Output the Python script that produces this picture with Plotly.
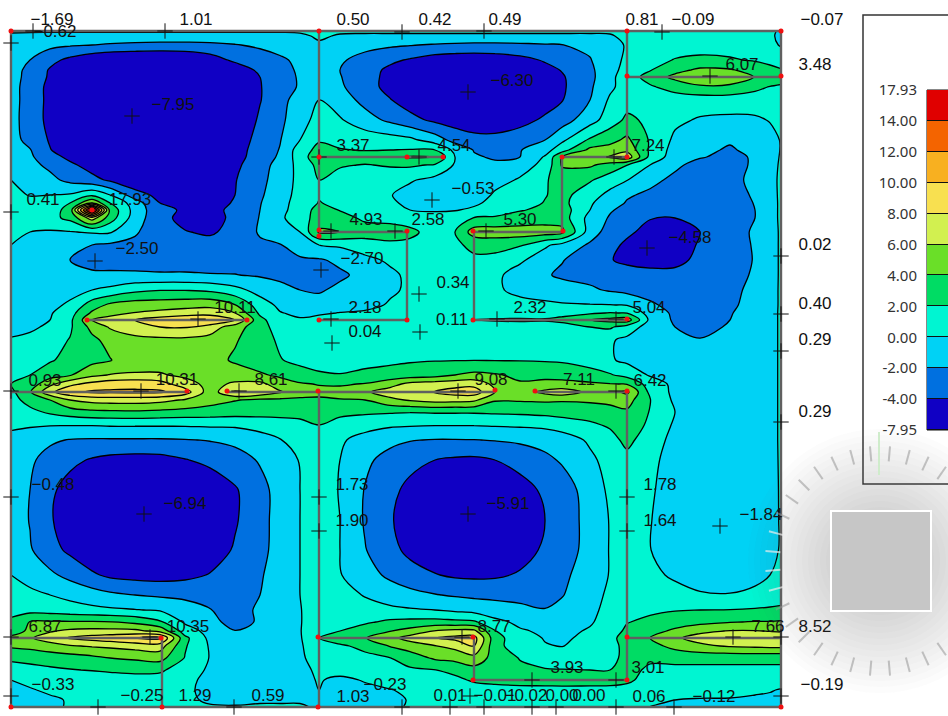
import math
import plotly.graph_objects as go

x_nodes = [11,30,50,70,92,110,135,160,185,210,235,260,280,300,319,340,365,390,410,435,455,474,495,520,545,562,590,610,627,650,675,700,730,755,770,781]
y_nodes = [31,36,45,60,70,77,87,100,120,140,150,157,165,180,195,203,210,218,232,245,260,275,290,305,313,320,327,340,360,375,384,392,400,412,425,440,460,490,520,550,575,595,610,622,631,638,646,658,670,680,690,700,707]

moment = [
[0.2,0.3,0.3,0.3,0.3,0.3,0.3,0.3,0.3,0.3,0.3,0.3,0.3,0.3,0.5,0.3,0.3,0.3,0.3,0.3,0.3,0.3,0.3,0.3,0.3,0.3,0.3,0.3,0.5,0.8,0.9,0.9,0.9,0.8,0.4,-0.3],
[-0.3,-0.6,-0.8,-0.8,-0.8,-0.9,-0.9,-0.9,-0.9,-0.9,-0.9,-0.9,-0.8,-0.4,0.3,-0.2,-0.3,-0.3,-0.3,-0.3,-0.3,-0.3,-0.3,-0.3,-0.3,-0.3,-0.3,-0.2,0.5,0.9,1,1,1,0.9,0.3,-0.4],
[-0.7,-1.2,-1.5,-1.8,-2.0,-2.2,-2.4,-2.5,-2.5,-2.4,-2.1,-1.7,-1.3,-0.8,-0.3,-0.8,-1.3,-1.7,-1.9,-2.2,-2.4,-2.5,-2.5,-2.4,-2.2,-2.05,-1.6,-0.8,0.2,0.9,1.1,1.2,1.2,1.1,0.6,-0.2],
[-1.3,-2.0,-3.4,-4.5,-5.5,-6,-6.2,-6.3,-6,-5,-3.6,-2.9,-2.3,-1.6,-0.9,-1.7,-2.8,-3.6,-4.2,-5,-5.2,-5.3,-5.1,-4.6,-3.8,-3.3,-2.1,-0.8,0.4,1.3,2.1,2.4,2.2,1.8,1.6,1.4],
[-1.4,-2.4,-4.2,-5.3,-6.2,-6.7,-6.9,-6.9,-6.7,-6.2,-5.2,-3.6,-2.7,-1.7,-0.9,-2,-3.2,-4.4,-5.3,-5.8,-6,-6,-5.8,-5.4,-4.6,-3.9,-2.4,-0.7,0.7,1.9,3.3,4.4,4.2,3.2,2.4,2.1],
[-1.4,-2.5,-4.3,-5.5,-6.4,-6.9,-7.1,-7.1,-6.9,-6.5,-5.6,-4,-2.8,-1.8,-1,-1.9,-3.3,-4.5,-5.4,-5.9,-6.1,-6.1,-5.9,-5.5,-4.8,-4.2,-2.5,-0.6,1.2,2.6,4.6,5.8,5.5,3.9,3.4,3.48],
[-1.4,-2.7,-4.6,-5.9,-6.7,-7.2,-7.4,-7.4,-7.2,-6.8,-6,-4.1,-2.9,-1.8,-0.7,-1.7,-3.2,-4.6,-5.6,-6.1,-6.3,-6.3,-6.1,-5.6,-5,-4.3,-2.3,-0.4,0.9,1.8,2.6,3.6,3.5,2.5,1.9,1.5],
[-1.4,-2.7,-4.6,-6.0,-6.9,-7.4,-7.7,-7.8,-7.5,-7,-6,-4.1,-2.6,-1.2,0,-1,-2.6,-3.9,-4.9,-5.6,-6,-6.1,-6,-5.4,-4.8,-4.1,-2.0,0.3,1.2,1.4,1.2,1,1,1,0.9,0.9],
[-1.4,-2.8,-4.6,-6.1,-7,-7.5,-7.8,-7.95,-7.7,-7.1,-5.8,-3.7,-2.4,-0.9,0.8,0.2,-1.2,-2.4,-3.4,-4.4,-4.9,-5.1,-5,-4.6,-3.7,-2.9,-0.8,1,2.4,1.6,0.4,-0.2,-0.4,-0.3,0.1,0.7],
[-1.4,-2.5,-4.2,-5.8,-6.8,-7.4,-7.7,-7.7,-7.5,-6.7,-5,-3.4,-2.1,0,1.8,1.5,1.2,0.9,0.5,-1,-2.7,-3.4,-3.5,-3,-2,-0.4,2.3,3.4,4.4,1.8,-0.4,-1.3,-1.8,-1.4,-0.6,0.1],
[-1.4,-1.9,-3.9,-5.2,-6.3,-7.2,-7.6,-7.7,-7.4,-6.6,-4.8,-3.2,-1.9,1,2.6,2.1,1.9,2,2.1,2,-0.5,-2.1,-2.6,-2.1,-0.8,1.2,4.5,4.8,5.5,1.7,-0.8,-1.6,-2.2,-1.5,-0.8,0.1],
[-1.3,-1.7,-3.2,-4.5,-6,-7,-7.4,-7.6,-7.3,-6.4,-4.7,-3.1,-1.7,1,3.37,3.1,3,3.3,4.2,4.1,0,-1.8,-2.2,-2,0.2,4,4.9,6.2,7.24,1.4,-1,-1.8,-2.7,-1.7,-0.9,0.2],
[-1.2,-1.5,-2.4,-3.6,-4.8,-6.2,-7,-7.2,-7,-6,-4.4,-2.9,-1.2,0.6,2.6,2.2,1.9,2.2,2.3,1.8,-0.2,-1.4,-1.7,-0.8,0.5,4.2,4.3,3.2,2.05,0,-1.5,-2.9,-3,-1.6,-0.8,0.3],
[0,-0.5,-1.5,-2.5,-3.4,-4.3,-5.6,-6.2,-6.2,-5.4,-4.1,-2.6,-1,0.5,2,1.2,1,0.7,0.2,-0.6,-1,-1.1,-0.7,0.2,1.8,2.8,2.2,1,0.05,-1.3,-2.6,-3.2,-2.6,-1.5,-0.7,0.4],
[0.5,-0.1,0,0.2,1.6,0,-3.1,-4.6,-5.6,-5.2,-4,-2.3,-0.8,0.6,1.8,1.3,1.2,0.1,-0.7,-1.1,-1.4,-1.2,0.3,1,1.9,2.6,0.9,-0.6,-1.7,-2.5,-3,-3.1,-3,-1.7,-0.8,0.4],
[0.6,0.6,0.9,2.0,6,2.0,-1,-4,-5.1,-4.9,-3.8,-2.1,-0.6,0.7,2.1,1.5,1.1,0.3,-0.4,-0.7,-0.7,-0.3,0.5,1.2,2.1,2.6,0.2,-0.9,-2.2,-2.8,-3.2,-3.3,-3.1,-1.9,-0.9,0.4],
[0.7,0.8,1.1,2.7,17.93,3.4,-0.8,-3.4,-4.3,-4.5,-3.6,-2,-0.5,0.8,2.8,1.9,1.3,0.6,0,-0.2,-0.1,0.3,0.9,1.9,2.3,3,0,-1.8,-2.6,-3.3,-3.6,-3.5,-3.2,-2,-0.9,0.4],
[0.8,1,1.4,2.5,7,3,-1,-3.4,-4.6,-4.5,-3.7,-1.9,-0.3,0.9,3,2.8,1.6,1,0.8,0.8,1,2.1,2.3,2.6,3,3,-0.7,-2.2,-3,-3.9,-4,-3.8,-3.3,-2,-0.9,0.4],
[0.5,0,-0.2,-0.1,0.2,0.2,-1.8,-3,-3.9,-4.3,-3.3,-1.8,-0.9,0,4.3,4,3,3.5,2.58,1,2,4.93,5,5.1,5,4.6,-1,-2.9,-3.6,-4.7,-5.1,-4,-3,-1.7,-0.9,0.3],
[0,-0.6,-0.9,-1.3,-2,-2.3,-2.4,-2.7,-3.3,-3.2,-2.8,-2.3,-2.1,-1,0,0.3,1,1.3,1.4,1.4,1.7,2.4,2.8,2.2,0.3,-0.6,-2.3,-3.4,-4.4,-4.9,-5,-3.8,-3,-1.8,-0.9,0.3],
[-0.5,-0.9,-1.4,-2,-2.6,-2.7,-2.8,-2.8,-2.8,-2.8,-2.7,-2.6,-2.5,-2.3,-2.2,-1.6,-0.5,0.3,0.6,0.8,1.3,1.7,1.3,0.3,-1,-1.9,-3,-3.9,-4.4,-4.7,-4.6,-3.5,-2.8,-1.9,-0.9,0.3],
[-0.6,-1,-1.3,-1.6,-1.7,-1.7,-1.7,-1.8,-1.8,-1.9,-1.95,-2.2,-2.4,-2.6,-2.7,-2.3,-1.5,-0.4,0.4,0.8,1,1.1,0.4,-0.8,-1.8,-2.3,-2.6,-3,-3.2,-3.4,-3.4,-3.2,-2.6,-1.8,-0.9,0.3],
[-0.8,-1,-0.9,-0.6,0,0.5,1.5,1.9,1.9,1.6,0.6,-0.7,-1.5,-2,-2.2,-1.6,-0.9,-0.3,0.3,0.6,0.7,0.6,0.3,-0.5,-1,-1.2,-1.7,-2.2,-2.6,-3,-3.3,-3.4,-2.5,-1.5,-0.8,0.3],
[-0.9,-0.8,-0.5,0.3,3,4.4,5,5.1,5.3,5.5,4.1,0.9,-0.4,-1.2,-1.3,-1.2,-0.6,0.2,0.6,0.8,0.8,0.7,0.7,0.6,0.4,0.2,0.1,0.05,-0.1,-1.6,-2.8,-3.2,-2.3,-1.4,-0.8,0.3],
[-1,-0.6,-0.2,1.2,4.3,5.2,6.1,6.5,6.9,7,6,1.6,0.1,-0.4,-0.4,0.1,0.3,0.5,1.0,1.1,1,1.1,1,1,1.1,1.3,1.7,2.1,1.9,-0.8,-2.4,-3,-2.1,-1.3,-0.7,0.3],
[-1.1,-0.6,0,1.5,6,7,8,9,9.8,10.11,8,2.6,0.6,0.2,0.9,1,0.9,0.8,0.7,0.8,1.1,2.1,2.2,2.32,2.2,2.6,4,4.6,5.04,-0.5,-2.3,-2.9,-2,-1.3,-0.7,0.3],
[-1.1,-0.5,0.5,1.7,4.6,6.2,7.2,8,8.2,7,5,2.7,1.2,0.8,0.6,0.5,0.5,0.4,0.4,0.5,0.6,0.7,0.9,0.9,0.9,1,2,2.3,1,-0.8,-2,-2.6,-1.8,-1.2,-0.7,0.3],
[0.3,0.7,1.2,2.1,3.5,4.7,5.4,5.5,5.5,5.3,4.2,2.8,1.7,1.1,0.9,0.8,0.7,0.6,0.6,0.6,0.7,0.7,0.8,0.8,0.8,0.7,0.6,0.2,-0.4,-1,-1.5,-1.9,-1.5,-1.1,-0.7,0.3],
[0.9,1.4,1.8,2.6,3.4,3.9,4.6,5,5.1,4.8,3.7,2.9,2.1,1.5,1.1,1,1.3,1.6,1.8,1.9,1.9,1.95,1.9,1.9,1.8,1.7,1.1,0.2,-0.4,-1,-1.4,-1.6,-1.6,-1.2,-0.7,0.3],
[1.7,2,3.1,3.8,5.5,6.1,6.3,6.2,5.6,5.2,5,4.3,3.6,2.8,2.3,2.1,2.5,2.7,2.9,3.2,4,4.5,4.2,3.6,3.6,3.4,2.8,2.2,1.3,-0.2,-0.9,-1.4,-1.6,-1.2,-0.7,0.3],
[2,2.8,5.5,7.5,8.6,9.2,9.4,8.9,6.8,5.4,6.3,6.5,5,4.2,3.9,3.8,4.1,5.2,6.6,7,7.2,7.3,5.5,4.2,4.4,4.5,4.3,4.1,3.9,1.1,-0.5,-1.3,-1.5,-1.2,-0.7,0.3],
[1.5,3.8,7.5,9.5,10.3,10.3,10.31,10.31,9,4.9,8.2,7.5,6.2,5,4.5,4.6,5.7,7,7.2,8.1,8.8,9.08,6,5,6.5,7.11,5.5,5.2,6.42,1.5,-0.5,-1.3,-1.5,-1.2,-0.7,0.3],
[1.3,2.7,4,6,6.7,6.9,6.9,6.6,5.8,4.8,4.1,3.6,3.6,3.6,3.7,3.9,4,5.5,6.2,6.8,6.7,6.4,4.2,4.2,4.3,4.2,4.3,4.5,4.8,2.1,-0.4,-1.3,-1.5,-1.2,-0.7,0.3],
[0.9,1.5,2.3,3,3.5,3.6,3.7,3.5,3.3,3.1,2.9,2.8,2.7,2.7,3.1,2.4,2.3,2.2,2.1,2.2,2.2,2.2,2.3,2.4,2.6,2.8,3,3.3,3.7,1.9,0,-1.2,-1.5,-1.2,-0.7,0.3],
[0.3,0.2,0.1,0.1,0.1,0.2,0.2,0.2,0.2,0.3,0.3,0.7,1.1,1.4,2,1.4,0.8,0.3,0.2,0.1,0.1,0.1,0.2,0.3,0.5,0.9,1.6,2.3,3.2,1.6,-0.3,-1.2,-1.5,-1.2,-0.7,0.3],
[-0.5,-1,-1.7,-2.1,-2.2,-2.2,-2.2,-2.2,-2.1,-1.9,-1.5,-0.8,-0.1,0.9,1.5,0.3,-0.8,-1.5,-1.9,-2.1,-2.1,-2.05,-1.9,-1.7,-1.4,-1,0.3,1.2,2.6,0.8,-0.5,-1.2,-1.5,-1.2,-0.7,0.3],
[-0.7,-1.7,-2.7,-3.5,-4.2,-4.6,-4.8,-4.7,-4.1,-3.5,-2.9,-1.8,-0.9,0.1,1.2,0,-1.6,-2.7,-3.3,-4,-4.3,-4.4,-4,-3.2,-2.4,-1.8,-0.4,0.7,1.3,0.5,-0.8,-1.3,-1.6,-1.3,-0.8,0.3],
[-0.8,-2,-3.6,-4.8,-5.8,-6.4,-6.8,-6.8,-6.2,-5.4,-4.2,-2.7,-1.2,0,1.73,-0.2,-2.1,-3.4,-4.6,-5.4,-5.8,-5.9,-5.6,-4.9,-3.6,-2.9,-1.2,0.4,1.78,0.3,-1.1,-1.6,-1.8,-1.5,-1,0.3],
[-0.8,-2.1,-3.8,-5,-6,-6.5,-6.94,-6.9,-6.4,-5.5,-4.2,-2.7,-1.2,0,1.6,0,-2.2,-3.8,-4.9,-5.6,-5.91,-5.9,-5.7,-5,-4,-3.1,-1.3,0.1,1.64,0.1,-1.2,-1.7,-1.84,-1.6,-1.1,0.3],
[-0.7,-1.8,-3.3,-4.4,-5.5,-6,-6.4,-6.3,-5.9,-5,-3.8,-2.6,-1.2,0,1.4,0,-1.9,-3.4,-4.5,-5.3,-5.6,-5.6,-5.3,-4.8,-3.7,-3,-1.3,0.1,1.3,0.05,-1.1,-1.5,-1.7,-1.4,-1,0.3],
[0,-0.5,-1.6,-2.6,-3.7,-4.4,-4.7,-4.8,-4.5,-3.9,-3.1,-2.2,-1.1,0,1,0.1,-1.2,-2.4,-3.2,-3.9,-4.3,-4.4,-4.3,-3.8,-2.9,-2.4,-1.1,0.1,1,0.6,-0.4,-0.9,-1,-0.5,0,0.6],
[0.5,0.3,0,-0.5,-1.1,-1.6,-2,-2.3,-2.5,-2.4,-2.2,-2.0,-1,0,1,0.6,-0.1,-0.9,-1.4,-1.9,-2.2,-2.4,-2.5,-2.5,-2.4,-2.1,-0.8,0.4,1.1,1.2,0.9,0.2,0.1,0.4,0.8,1.1],
[1.5,1.3,1.1,0.8,0.5,0.3,0.1,-0.2,-1,-1.95,-2.5,-1.8,-0.9,-0.1,1.1,0.9,0.6,0.4,0.2,0,-0.4,-0.7,-1.1,-1.6,-1.95,-1.5,-0.4,0.5,1.3,1.6,1.9,2,2.05,2.2,2.3,2.4],
[2.3,4.1,4.2,4.2,4.2,4.1,3.5,2.3,-0.3,-1.5,-2.6,-1.8,-0.8,-0.1,1,1.2,1.7,2.4,2.6,2.7,2.5,2.3,0.5,-0.4,-0.9,-1.1,-0.2,0.8,1.9,2.5,3,3.4,3.9,4.1,4.1,4.2],
[3,4.4,5.8,6.4,6.6,6.6,6.5,5.4,1,-0.7,-1.95,-1.9,-0.7,-0.1,1.5,2,3,3.9,4.7,6.1,6.6,6.5,2.1,0.2,-0.3,-0.5,0.2,1,2.4,3.2,4.4,5.6,6.1,6.1,5.9,5.6],
[4.5,5.8,7,8.2,8.8,9.2,10,10.35,2.5,-0.5,-1.1,-1.1,-0.6,-0.2,2,3,3.9,5.4,6.8,8,8.5,8.77,2.8,0.7,-0.1,-0.2,0.3,1.2,3.2,4,5.7,6.7,7.3,7.66,7.6,7.9],
[4.3,4.6,5.2,5.8,6.2,6.4,6.8,7,2.2,-0.2,-1,-1,-0.5,-0.2,1,1.7,2.5,4.1,4.9,5.9,6.6,8,2.6,1,0.1,-0.05,0.5,1.1,2.8,3.3,4.6,5.6,6.2,6.4,6.5,6.5],
[2.3,2.5,2.8,3.1,3.5,4,4.3,4.7,1.9,-0.1,-0.9,-0.9,-0.5,-0.2,0.5,0.9,1.5,1.95,3,4.3,4.6,5.3,3.2,1.9,0.8,0.7,0.9,1.5,2.5,2.4,2.6,2.6,2.6,2.6,2.6,2.6],
[1.3,1.5,1.7,1.9,2.1,2.3,2.5,2.3,1,-0.3,-0.7,-0.8,-0.5,-0.3,0.2,0.5,0.9,1.4,1.7,1.95,2.6,3.3,2.8,2.4,2.2,2.1,2,2,2.7,1.6,1.5,1.5,1.5,1.5,1.5,1.5],
[0,0.3,0.4,0.6,0.8,1,1.2,1.29,0.4,-0.4,-0.5,-0.6,-0.5,-0.4,0.1,-0.3,0.1,0.4,0.7,1,1.5,2.3,2.7,3,3.1,3.1,3,2.8,2.4,1.2,1.1,1,1,0.9,0.8,0.7],
[-0.2,-0.1,0.2,0.3,0.4,0.4,0.5,0.6,0.2,-0.3,-0.4,-0.4,-0.4,-0.3,0,-0.3,-0.3,-0.05,0.2,0.3,0.5,1,1.1,1.2,1.2,1.3,1.3,1.4,1.3,0.9,0.7,0.5,0.4,0.2,0.1,-0.1],
[-0.33,-0.33,-0.2,0.1,0.3,0.3,0.3,0.3,0.2,-0.15,-0.15,-0.1,-0.1,-0.1,-0.1,-0.3,-0.23,-0.2,0.05,0.05,0.05,0.1,0.1,0.2,0.2,0.2,0.3,0.3,0.3,0.3,0,-0.1,-0.1,-0.2,-0.3,-0.3],
[-0.4,-0.3,-0.2,0.1,0.1,0.1,0.1,0.1,0.1,0.1,0.05,0.1,0.1,0.1,-0.1,-0.1,-0.1,-0.1,0.05,0.01,0.05,0.1,0.1,0.1,0.1,0.1,0.1,0.1,0.1,-0.02,-0.1,-0.1,-0.1,-0.2,-0.3,-0.3],
]

band_colors = ["#1000c4","#0070e0","#00d2f5","#00f5d2","#00dc64","#6adf28","#d2f050","#f8e050","#f8b020","#f46400","#e00000"]
band_labels = ["-7.95","-4.00","-2.00","0.00","2.00","4.00","6.00","8.00","10.00","12.00","14.00","17.93"]

beam_x = [11,781,781,11,11,None,319,319,None,319,319,None,627,627,None,627,627,None,627,781,None,319,443,None,319,407,407,319,None,87,249,None,11,188,None,227,495,None,535,627,None,562,627,None,562,562,474,474,627,None,11,162,162,None,319,474,474,627,None,627,781]
beam_y = [31,31,707,707,31,None,31,232,None,392,707,None,31,157,None,392,680,None,77,77,None,157,157,None,232,232,320,320,None,320,320,None,392,392,None,392,392,None,392,392,None,157,157,None,157,232,232,320,320,None,638,638,707,None,638,638,680,680,None,638,638]

node_x = [11,319,627,781,627,781,319,407,443,319,319,407,407,319,87,247,92,473,473,562,627,563,627,187,227,318,495,535,627,161,318,473,473,627,627,11,162,318,781]
node_y = [31,31,31,31,76,76,157,157,157,230,236,231,320,320,320,320,210,231,320,157,157,231,319,391,391,391,390,391,391,638,637,637,680,637,680,707,707,707,707]

cross_x = [33,165,402,11,132,11,95,321,319,419,432,331,395,92,419,420,331,332,198,468,484,662,710,614,486,647,781,781,781,497,616,11,141,239,458,11,144,319,319,468,11,150,462,11,98,234,402,450,470,616,627,627,720,781,733,781,532,616,781,484,532,556,616,674]
cross_y = [31,31,32,43,116,212,261,270,157,157,200,231,231,210,294,332,319,343,319,92,31,32,76,157,231,248,256,314,351,319,319,391,391,391,391,497,514,497,531,514,637,637,637,696,707,707,707,707,696,391,497,531,526,422,637,637,680,680,696,707,707,707,707,707]

label_x = [52,196,353,435,505,642,693,822,815,815,815,815,815,815,822,768,55,173,742,512,353,454,648,473,43,130,137,366,428,520,690,362,453,365,530,649,235,365,452,45,177,271,491,579,650,53,185,352,352,508,660,660,761,45,188,494,567,648,53,385,142,195,268,353,450,495,526,562,589,649,714]
label_y = [21,21,21,21,21,21,21,21,66,246,305,341,413,628,686,628,33,106,66,82,147,147,147,190,201,201,250,221,221,221,239,260,284,309,309,309,309,333,321,382,381,381,381,381,382,486,505,486,522,505,486,522,516,628,628,628,669,669,686,686,697,697,697,698,697,697,697,697,697,698,698]
label_text = ["−1.69","1.01","0.50","0.42","0.49","0.81","−0.09","−0.07","3.48","0.02","0.40","0.29","0.29","8.52","−0.19","7.66","−0.62","−7.95","6.07","−6.30","3.37","4.54","7.24","−0.53","0.41","17.93","−2.50","4.93","2.58","5.30","−4.58","−2.70","0.34","2.18","2.32","5.04","10.11","0.04","0.11","0.93","10.31","8.61","9.08","7.11","6.42","−0.48","−6.94","1.73","1.90","−5.91","1.78","1.64","−1.84","6.87","10.35","8.77","3.93","3.01","−0.33","−0.23","−0.25","1.29","0.59","1.03","0.01","−0.01","−0.02","0.00","0.00","0.06","−0.12"]

n = len(band_colors)
scale = []
for i, c in enumerate(band_colors):
    scale += [[i / n, c], [(i + 1) / n, c]]

fig = go.Figure()
fig.add_trace(go.Contour(x=x_nodes, y=y_nodes, z=moment, zauto=False, zmin=-6, zmax=16,
    colorscale=scale, showscale=False, hoverinfo="skip",
    contours=dict(start=-4, end=14, size=2, coloring="fill", showlabels=False),
    line=dict(color="#000000", width=1.3, smoothing=1)))
fig.add_trace(go.Scatter(x=beam_x, y=beam_y, mode="lines", line=dict(color="#606060", width=2.4), hoverinfo="skip"))
fig.add_trace(go.Scatter(x=cross_x, y=cross_y, mode="markers", hoverinfo="skip",
    marker=dict(symbol="cross-thin", size=11, line=dict(color="#111", width=1))))
fig.add_trace(go.Scatter(x=node_x, y=node_y, mode="markers", hoverinfo="skip",
    marker=dict(color="#f01010", size=5)))
fig.add_trace(go.Scatter(x=label_x, y=label_y, mode="text", text=label_text, textposition="middle center",
    hoverinfo="skip", textfont=dict(family="Liberation Sans", size=17, color="#111")))

band_idx = [[i + 0.5, i + 0.5] for i in range(n)]
fig.add_trace(go.Heatmap(z=band_idx, x=[0, 1], y=[i + 0.5 for i in range(n)], xaxis="x2", yaxis="y2",
    colorscale=scale, zmin=0, zmax=n, showscale=False, ygap=1, hoverinfo="skip"))

shapes = [
    dict(type="rect", layer="below", xref="x", yref="y", x0=863, x1=960, y0=15, y1=484, line=dict(color="#333", width=1.5), fillcolor="white"),
    dict(type="rect", layer="below", xref="x", yref="y", x0=927, x1=960, y0=90, y1=430, line=dict(color="#111", width=1), fillcolor="#111"),
]
# loading-spinner overlay in the corner of the screenshot
cx, cy = 880, 561
for r in range(132, 48, -6):
    shapes.append(dict(type="circle", xref="x", yref="y", x0=cx - r, x1=cx + r, y0=cy - r, y1=cy + r,
                       line=dict(width=0), fillcolor="rgba(90,90,90,0.018)"))
for deg in range(0, 360, 10):
    a = math.radians(deg + 5)
    col = "rgba(235,235,235,0.7)" if cx + 100 * math.cos(a) < 785 else "rgba(150,150,150,0.55)"
    shapes.append(dict(type="line", xref="x", yref="y", x0=cx + 100 * math.cos(a), y0=cy + 100 * math.sin(a),
                       x1=cx + 115 * math.cos(a), y1=cy + 115 * math.sin(a), line=dict(color=col, width=2)))
shapes.append(dict(type="rect", xref="x", yref="y", x0=831, x1=931, y0=511, y1=611,
                   line=dict(color="white", width=2), fillcolor="#c6c6c6"))
shapes.append(dict(type="line", xref="x", yref="y", x0=879, x1=879, y0=432, y1=475, line=dict(color="#cfeccb", width=2)))

fig.update_layout(
    width=948, height=716, margin=dict(l=0, r=0, t=0, b=0, autoexpand=False), showlegend=False,
    paper_bgcolor="white", plot_bgcolor="rgba(0,0,0,0)", shapes=shapes,
    xaxis=dict(range=[0, 948], domain=[0, 1], visible=False, fixedrange=True),
    yaxis=dict(range=[716, 0], domain=[0, 1], visible=False, fixedrange=True),
    xaxis2=dict(range=[0, 1], domain=[927 / 948, 1], visible=False, anchor="y2", fixedrange=True),
    yaxis2=dict(range=[0, n], domain=[(716 - 430) / 716, (716 - 90) / 716], anchor="x2", side="left",
                tickvals=list(range(n + 1)), ticktext=band_labels, ticks="outside", ticklen=6,
                tickcolor="rgba(0,0,0,0)", showgrid=False, zeroline=False, showline=False,
                tickfont=dict(family="Noto Sans", size=15, color="#333"), fixedrange=True),
)
assert all(len(r) == len(x_nodes) for r in moment), [i for i, r in enumerate(moment) if len(r) != len(x_nodes)]
assert len(moment) == len(y_nodes), (len(moment), len(y_nodes))
assert len(label_x) == len(label_y) == len(label_text), (len(label_x), len(label_y), len(label_text))
assert len(cross_x) == len(cross_y) and len(node_x) == len(node_y) and len(beam_x) == len(beam_y)
fig.write_html("out.html", config=dict(displayModeBar=False),
               post_script="document.body.style.margin='0';document.documentElement.style.overflow='hidden';")
